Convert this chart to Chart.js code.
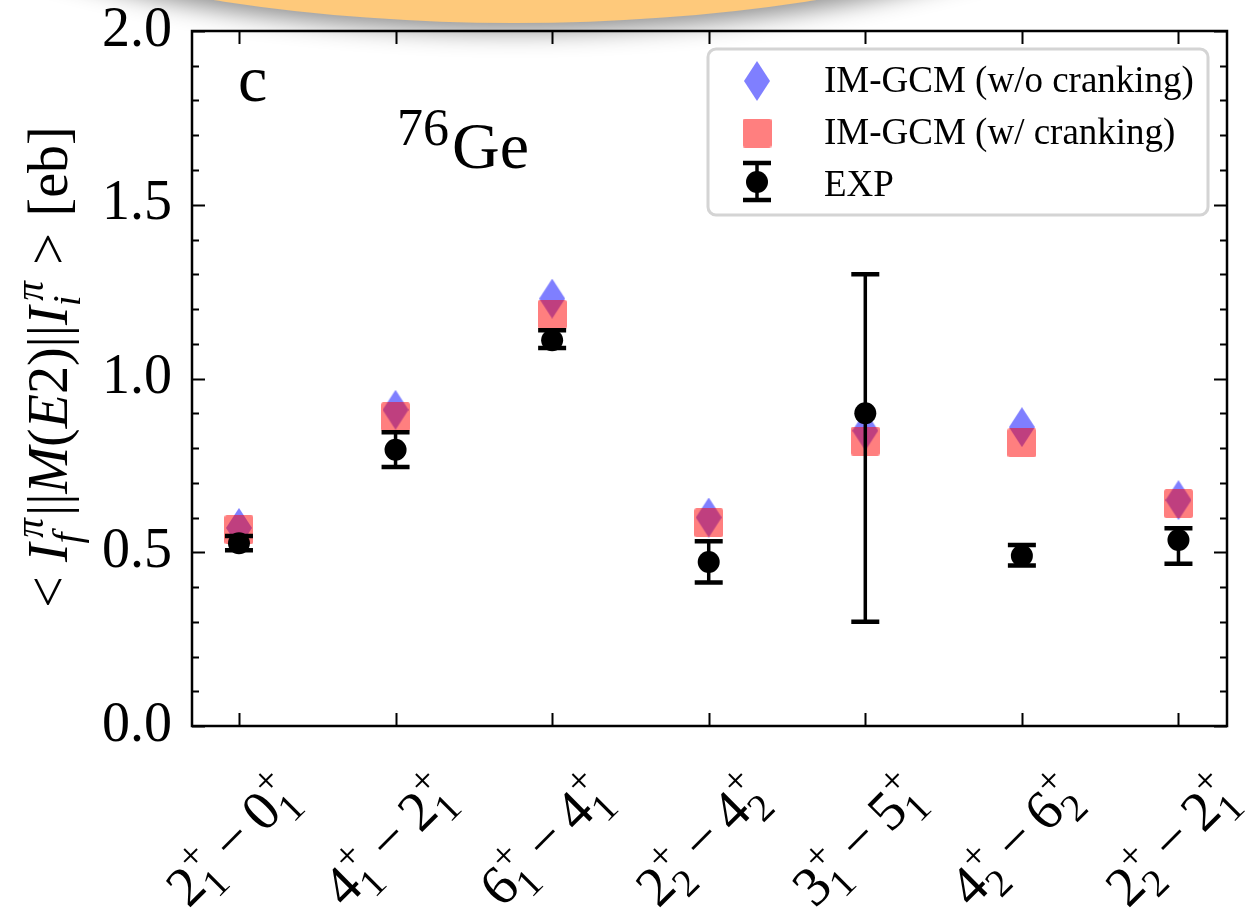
<!DOCTYPE html>
<html>
<head>
<meta charset="utf-8">
<script src="https://cdn.jsdelivr.net/npm/chart.js@4.4.1/dist/chart.umd.min.js"></script>
<style>
  html, body { margin: 0; padding: 0; background: #fff; }
  #wrap { position: relative; width: 1250px; height: 915px; overflow: hidden; }
  #blob {
    position: absolute; left: -245px; top: -537px; width: 1520px; height: 560px;
    border-radius: 50%; background: #fec97b;
    box-shadow: 0 8px 24px rgba(0, 0, 0, 0.45);
    pointer-events: none;
  }
</style>
</head>
<body>
<div id="wrap">
  <canvas id="chart" width="1250" height="915"></canvas>
  <div id="blob"></div>
</div>
<script>
(function () {
  'use strict';

  // --- Transitions (initial level -> final level), [spin, index] ---
  const initialLevels = [['2', '1'], ['4', '1'], ['6', '1'], ['2', '2'], ['3', '1'], ['4', '2'], ['2', '2']];
  const finalLevels   = [['0', '1'], ['2', '1'], ['4', '1'], ['4', '2'], ['5', '1'], ['6', '2'], ['2', '1']];

  // --- Reduced E2 matrix elements [eb] ---
  const woCranking = [0.57, 0.91, 1.23, 0.60, 0.85, 0.86, 0.65];
  const wCranking  = [0.565, 0.89, 1.185, 0.585, 0.82, 0.815, 0.64];
  const expValue   = [0.526, 0.795, 1.11, 0.472, 0.90, 0.49, 0.535];
  const expLow     = [0.506, 0.745, 1.088, 0.413, 0.30, 0.462, 0.467];
  const expHigh    = [0.547, 0.845, 1.139, 0.532, 1.30, 0.521, 0.569];

  const yTicks = [0, 0.5, 1.0, 1.5, 2.0];

  const SERIF = '"Liberation Serif", "Times New Roman", serif';

  // --- Marker sprites ---
  function makeDiamond() {
    const c = document.createElement('canvas');
    c.width = 26; c.height = 40;
    const g = c.getContext('2d');
    g.fillStyle = 'rgba(0, 0, 255, 0.5)';
    g.beginPath();
    g.moveTo(13, 0); g.lineTo(26, 20); g.lineTo(13, 40); g.lineTo(0, 20);
    g.closePath(); g.fill();
    return c;
  }

  function makeSquare() {
    const c = document.createElement('canvas');
    c.width = 29; c.height = 29;
    const g = c.getContext('2d');
    g.fillStyle = 'rgba(255, 0, 0, 0.5)';
    g.beginPath();
    g.roundRect(0, 0, 29, 29, 2.5);
    g.fill();
    return c;
  }

  const diamondSprite = makeDiamond();
  const squareSprite = makeSquare();

  // --- Tiny math-text layout: upright/italic runs plus stacked scripts ---
  function layoutMath(ctx, parts, size) {
    const runs = [];
    const s = size * 0.7;
    let x = 0;
    parts.forEach(p => {
      if (p.gap) { x += p.gap * size; return; }
      if (p.t) {
        const font = (p.it ? 'italic ' : '') + size + 'px ' + SERIF;
        ctx.font = font;
        runs.push({ font, t: p.t, x, y: 0, id: p.id });
        x += ctx.measureText(p.t).width;
        return;
      }
      let w = 0;
      if (p.sup) {
        const dx = (p.supDx || 0) * size;
        const font = (p.supIt ? 'italic ' : '') + s + 'px ' + SERIF;
        ctx.font = font;
        runs.push({ font, t: p.sup, x: x + dx, y: -0.42 * size });
        w = Math.max(w, ctx.measureText(p.sup).width + dx);
      }
      if (p.sub) {
        const font = (p.subIt ? 'italic ' : '') + s + 'px ' + SERIF;
        ctx.font = font;
        runs.push({ font, t: p.sub, x, y: 0.24 * size });
        w = Math.max(w, ctx.measureText(p.sub).width);
      }
      x += w + 0.04 * size;
    });
    return { runs, width: x };
  }

  function drawRuns(ctx, runs, ox, oy) {
    ctx.textAlign = 'left';
    ctx.textBaseline = 'alphabetic';
    runs.forEach(r => {
      ctx.font = r.font;
      ctx.fillText(r.t, ox + r.x, oy + r.y);
    });
  }

  function levelParts(lv) {
    return [{ t: lv[0] }, { sup: '+', sub: lv[1] }];
  }

  // --- Frame with inward ticks on all four sides ---
  const framePlugin = {
    id: 'frame',
    afterDraw(chart) {
      const { ctx, chartArea: a, scales } = chart;
      const ys = scales.y, xs = scales.x;
      ctx.save();
      ctx.strokeStyle = '#000';
      ctx.lineWidth = 2;
      for (let i = 0; i <= 20; i++) {
        const py = Math.round(ys.getPixelForValue(i / 10)) + 0.5;
        const len = i % 5 === 0 ? 13 : 7;
        ctx.beginPath();
        ctx.moveTo(a.left, py); ctx.lineTo(a.left + len, py);
        ctx.moveTo(a.right, py); ctx.lineTo(a.right - len, py);
        ctx.stroke();
      }
      initialLevels.forEach((_, i) => {
        const px = Math.round(xs.getPixelForValue(i)) + 0.5;
        ctx.beginPath();
        ctx.moveTo(px, a.bottom); ctx.lineTo(px, a.bottom - 13);
        ctx.moveTo(px, a.top); ctx.lineTo(px, a.top + 13);
        ctx.stroke();
      });
      ctx.lineWidth = 2.5;
      ctx.strokeRect(a.left, a.top, a.right - a.left, a.bottom - a.top);
      ctx.restore();
    }
  };

  // --- Experimental error bars with caps ---
  function drawErrorBar(ctx, x, yLo, yHi) {
    ctx.lineWidth = 3.5;
    ctx.beginPath();
    ctx.moveTo(x, yLo); ctx.lineTo(x, yHi);
    ctx.stroke();
    ctx.lineWidth = 4.5;
    ctx.beginPath();
    ctx.moveTo(x - 14, yLo); ctx.lineTo(x + 14, yLo);
    ctx.moveTo(x - 14, yHi); ctx.lineTo(x + 14, yHi);
    ctx.stroke();
  }

  const errorBarPlugin = {
    id: 'errorBars',
    afterDatasetsDraw(chart) {
      const { ctx, scales } = chart;
      ctx.save();
      ctx.strokeStyle = '#000';
      expValue.forEach((_, i) => {
        const x = scales.x.getPixelForValue(i);
        drawErrorBar(ctx, x, scales.y.getPixelForValue(expLow[i]), scales.y.getPixelForValue(expHigh[i]));
      });
      ctx.restore();
    }
  };

  // --- Texts: panel tag, nucleus, legend, axis labels ---
  const textPlugin = {
    id: 'texts',
    afterDraw(chart) {
      const { ctx, scales } = chart;
      ctx.save();
      ctx.fillStyle = '#000';
      ctx.textAlign = 'left';
      ctx.textBaseline = 'alphabetic';

      ctx.font = '66px ' + SERIF;
      ctx.fillText('c', 238, 101);
      ctx.font = '52px ' + SERIF;
      ctx.fillText('76', 397, 145);
      ctx.font = '66px ' + SERIF;
      ctx.fillText('Ge', 452, 168);

      // legend box
      ctx.fillStyle = 'rgba(255, 255, 255, 0.8)';
      ctx.strokeStyle = '#d4d4d4';
      ctx.lineWidth = 3;
      ctx.beginPath();
      ctx.roundRect(708, 49, 500, 166, 8);
      ctx.fill(); ctx.stroke();

      ctx.drawImage(diamondSprite, 757 - 13, 81 - 20);
      ctx.drawImage(squareSprite, 757 - 14.5, 133 - 14.5);
      ctx.fillStyle = '#000';
      ctx.strokeStyle = '#000';
      drawErrorBar(ctx, 757, 200, 163);
      ctx.beginPath();
      ctx.arc(757, 182, 11, 0, Math.PI * 2);
      ctx.fill();

      ctx.font = '37px ' + SERIF;
      ctx.fillText('IM-GCM (w/o cranking)', 824, 92);
      ctx.fillText('IM-GCM (w/ cranking)', 824, 144);
      ctx.fillText('EXP', 824, 196);

      // y axis title, rotated
      const ySize = 56;
      const yl = layoutMath(ctx, [
        { t: '<' }, { gap: 0.25 }, { t: 'I', it: 1 },
        { sup: 'π', sub: 'f', supIt: 1, subIt: 1, supDx: 0.1 },
        { t: '||' }, { t: 'M', it: 1 }, { t: '(' }, { t: 'E', it: 1 }, { t: '2)' }, { t: '||' },
        { t: 'I', it: 1 }, { sup: 'π', sub: 'i', supIt: 1, subIt: 1, supDx: 0.1 },
        { gap: 0.25 }, { t: '>' }, { gap: 0.3 }, { t: '[eb]' }
      ], ySize);
      ctx.save();
      ctx.translate(67, 367);
      ctx.rotate(-Math.PI / 2);
      drawRuns(ctx, yl.runs, -yl.width / 2, 0);
      ctx.restore();

      // x tick labels, rotated 45 degrees and centred on the minus sign
      const xSize = 56;
      initialLevels.forEach((lv, i) => {
        const lab = layoutMath(ctx, levelParts(lv).concat(
          [{ gap: 0.2 }, { t: '−', id: 'minus' }, { gap: 0.2 }],
          levelParts(finalLevels[i])
        ), xSize);
        const minus = lab.runs.find(r => r.id === 'minus');
        ctx.font = xSize + 'px ' + SERIF;
        const cx = minus.x + ctx.measureText('−').width / 2;
        const px = scales.x.getPixelForValue(i);
        ctx.save();
        ctx.translate(px - 4, 843);
        ctx.rotate(-Math.PI / 4);
        drawRuns(ctx, lab.runs, -cx, 0.25 * xSize);
        ctx.restore();
      });

      ctx.restore();
    }
  };

  const points = arr => arr.map((v, i) => ({ x: i, y: v }));

  // labels hang over the frame edges, so the axes reserve no extra room for them
  function noEdgePadding(scale) {
    scale.paddingTop = 0;
    scale.paddingBottom = 0;
    scale.paddingLeft = 0;
    scale.paddingRight = 0;
  }

  new Chart(document.getElementById('chart').getContext('2d'), {
    type: 'scatter',
    data: {
      datasets: [
        {
          label: 'IM-GCM (w/o cranking)',
          data: points(woCranking),
          pointStyle: diamondSprite,
          pointRadius: 12,
          order: 2,
        },
        {
          label: 'IM-GCM (w/ cranking)',
          data: points(wCranking),
          pointStyle: squareSprite,
          pointRadius: 12,
          order: 1,
        },
        {
          label: 'EXP',
          data: points(expValue),
          pointStyle: 'circle',
          pointRadius: 11,
          backgroundColor: '#000',
          borderWidth: 0,
          order: 0,
        },
      ],
    },
    options: {
      responsive: false,
      animation: false,
      events: [],
      layout: { autoPadding: false, padding: { top: 31, right: 23, left: 0, bottom: 0 } },
      plugins: {
        legend: { display: false },
        tooltip: { enabled: false },
      },
      scales: {
        x: {
          type: 'linear',
          min: -0.3,
          max: 6.31,
          grid: { display: false },
          border: { display: false },
          ticks: { display: false },
          afterFit(scale) { scale.height = 189; noEdgePadding(scale); },
        },
        y: {
          min: 0,
          max: 2,
          grid: { display: false, drawTicks: false },
          border: { display: false },
          afterBuildTicks(scale) { scale.ticks = yTicks.map(v => ({ value: v })); },
          ticks: {
            color: '#000',
            padding: 20,
            font: { family: SERIF, size: 56 },
            callback: v => v.toFixed(1),
          },
          afterFit(scale) { scale.width = 192; noEdgePadding(scale); },
        },
      },
    },
    plugins: [framePlugin, errorBarPlugin, textPlugin],
  });
})();
</script>
</body>
</html>
